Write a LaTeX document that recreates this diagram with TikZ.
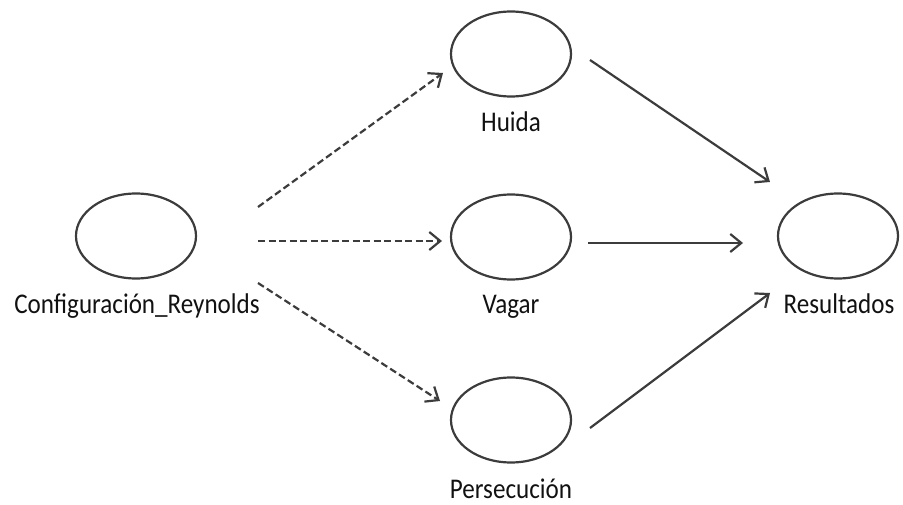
\documentclass[tikz,border=0pt]{standalone}
\usepackage{fontspec}
\setmainfont[FakeStretch=0.88]{Carlito}
\usetikzlibrary{arrows.meta,calc,shapes.geometric}
\definecolor{ink}{HTML}{3C3C3C}
\definecolor{txt}{HTML}{111111}
\tikzset{
  oval/.style={draw=ink, line width=2.2pt, ellipse, minimum width=120pt, minimum height=85pt, inner sep=0pt},
  lbl/.style={anchor=base, inner sep=0pt, text=txt, font=\fontsize{28.5}{31}\selectfont},
  link/.style={draw=ink, line width=2.2pt, -{Straight Barb[length=11pt,width=18pt]}},
  dlink/.style={link, dash pattern=on 7pt off 3.5pt},
}
\begin{document}
\begin{tikzpicture}[x=1pt,y=-1pt]
\useasboundingbox (0,0) rectangle (903,505);
\node[oval] (cfg) at (136,236) {};
\node[oval] (hui) at (511,54) {};
\node[oval] (vag) at (511,237) {};
\node[oval] (per) at (511,420) {};
\node[oval] (res) at (838,236) {};
\node[lbl] (lcfg) at (137,314) {Configuración\_Reynolds};
\node[lbl] (lhui) at (511,132) {Huida};
\node[lbl] (lvag) at (511,314) {Vagar};
\node[lbl] (lper) at (511,498) {Persecución};
\node[lbl] (lres) at (839,314) {Resultados};
\draw[dlink] ($(cfg)+(122,-29)$) -- ($(hui)+(-68,19)$);
\draw[dlink] ($(cfg)+(122,5)$) -- ($(vag)+(-69,4)$);
\draw[dlink] ($(cfg)+(122,47)$) -- ($(per)+(-71,-19)$);
\draw[link] ($(hui)+(79,6)$) -- ($(res)+(-68,-54)$);
\draw[link] ($(vag)+(77,6)$) -- ($(res)+(-95,7)$);
\draw[link] ($(per)+(79,8)$) -- ($(res)+(-68,57)$);
\end{tikzpicture}
\end{document}
